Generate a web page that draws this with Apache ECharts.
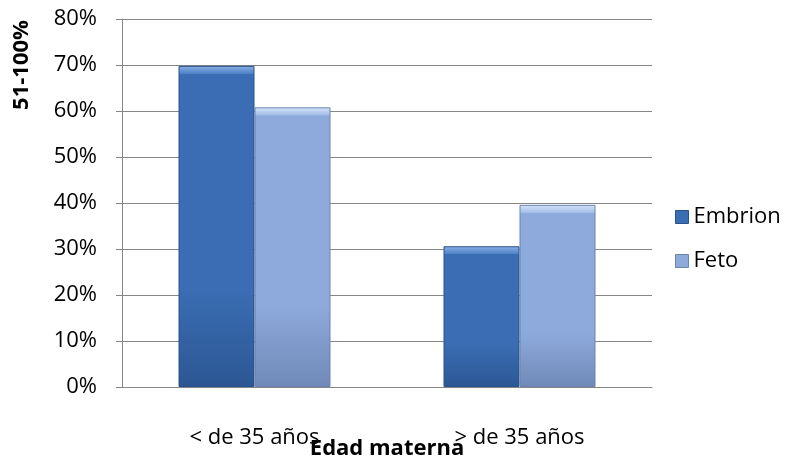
<!DOCTYPE html>
<html>
<head>
<meta charset="utf-8">
<script src="https://cdn.jsdelivr.net/npm/echarts@6/dist/echarts.min.js"></script>
<style>
  html, body { margin: 0; padding: 0; background: #fff; }
  #chart { width: 785px; height: 460px; }
</style>
</head>
<body>
<div id="chart"></div>
<script>
// Maternal age groups and share of cases (51-100%) per type
const categories = ['< de 35 años', '> de 35 años'];
const embrion = [69.8, 30.6];
const feto = [60.8, 39.6];
const yTicks = { min: 0, max: 80, step: 10 };

const FONT = '"Open Sans", "Noto Sans", sans-serif';
const FS = 22;
const GRID = { left: 122, right: 133, top: 19, bottom: 73 };
const PLOT_H = 460 - GRID.top - GRID.bottom;
const BEVEL_PX = 8;

// Vertical gradient with a light bevel strip at the top of each bar
function barFill(value, pal) {
  const h = value / yTicks.max * PLOT_H;
  const b = Math.min(0.5, BEVEL_PX / h);
  return {
    type: 'linear', x: 0, y: 0, x2: 0, y2: 1,
    colorStops: [
      { offset: 0, color: pal.top },
      { offset: b * 0.5, color: pal.light },
      { offset: b, color: pal.mid },
      { offset: b + 0.001, color: pal.main },
      { offset: 0.7, color: pal.main },
      { offset: 1, color: pal.bottom }
    ]
  };
}

const palEmb = { top: '#8db3e6', light: '#6b98d6', mid: '#4d80c6', main: '#3a6db3', bottom: '#2c5794' };
const palFet = { top: '#d6e5f8', light: '#bcd1ef', mid: '#a3bde6', main: '#8eaadc', bottom: '#7089b8' };

function items(vals, pal) {
  return vals.map(v => ({ value: v, itemStyle: { color: barFill(v, pal) } }));
}

const chart = echarts.init(document.getElementById('chart'), null, { renderer: 'canvas' });
chart.setOption({
  animation: false,
  textStyle: { fontFamily: FONT },
  grid: {
    left: GRID.left, right: GRID.right, top: GRID.top, bottom: GRID.bottom,
    containLabel: false, outerBoundsMode: 'none'
  },
  legend: {
    orient: 'vertical',
    left: 670, top: 201,
    itemWidth: 13, itemHeight: 13, itemGap: 22, itemTextGap: 4,
    icon: 'rect',
    textStyle: { fontFamily: FONT, fontSize: FS, color: '#000' },
    data: [
      { name: 'Embrion', itemStyle: { color: '#3a6db3', borderColor: '#2a528a', borderWidth: 1 } },
      { name: 'Feto', itemStyle: { color: '#8eaadc', borderColor: '#6a84b0', borderWidth: 1 } }
    ]
  },
  xAxis: {
    type: 'category',
    data: categories,
    name: 'Edad materna',
    nameLocation: 'middle',
    nameGap: 51,
    nameMoveOverlap: false,
    nameTextStyle: { fontFamily: FONT, fontSize: FS, fontWeight: 'bold', color: '#000' },
    axisLine: { lineStyle: { color: '#868686' } },
    axisTick: { length: 6, lineStyle: { color: '#868686' } },
    axisLabel: { margin: 40, fontFamily: FONT, fontSize: FS, color: '#000' },
    splitLine: { show: false }
  },
  yAxis: {
    type: 'value',
    min: yTicks.min, max: yTicks.max, interval: yTicks.step,
    axisLine: { show: true, lineStyle: { color: '#868686' } },
    axisTick: { show: true, length: 6, lineStyle: { color: '#868686' } },
    axisLabel: { formatter: '{value}%', margin: 25, fontFamily: FONT, fontSize: FS, color: '#000' },
    splitLine: { lineStyle: { color: '#868686', width: 1 } }
  },
  graphic: [{
    type: 'text',
    x: 22, y: 65,
    rotation: Math.PI / 2,
    style: {
      text: '51-100%', x: 0, y: 0, align: 'center', verticalAlign: 'middle',
      fontFamily: FONT, fontSize: FS, fontWeight: 'bold', fill: '#000'
    }
  }],
  series: [
    {
      name: 'Embrion', type: 'bar',
      barWidth: 76, barGap: '0%',
      data: items(embrion, palEmb),
      itemStyle: { borderColor: '#2a528a', borderWidth: 1 }
    },
    {
      name: 'Feto', type: 'bar',
      barWidth: 76, barGap: '0%',
      data: items(feto, palFet),
      itemStyle: { borderColor: '#6a84b0', borderWidth: 1 }
    }
  ]
});
</script>
</body>
</html>
